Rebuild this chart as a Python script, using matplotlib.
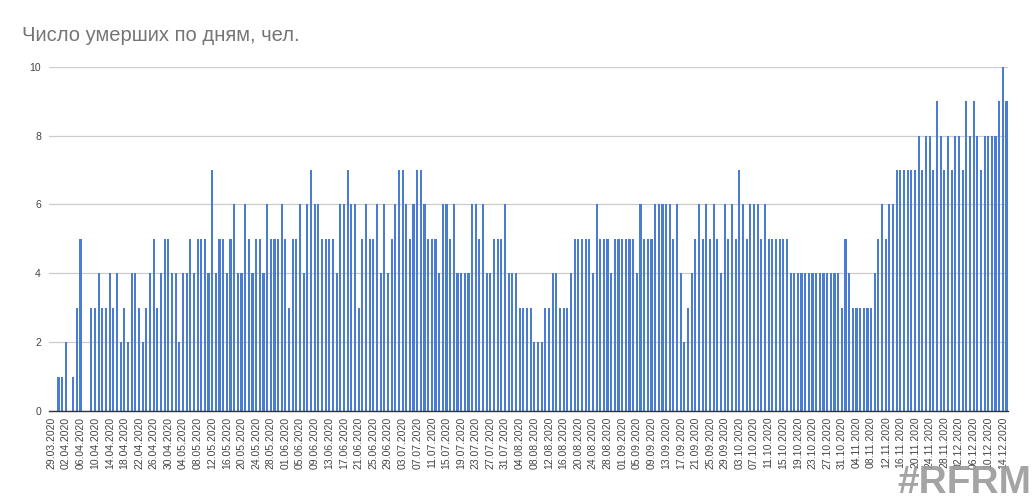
import datetime as dt
import numpy as np
import matplotlib
matplotlib.use("Agg")
import matplotlib.pyplot as plt

plt.rcParams["font.family"] = ["Liberation Sans", "DejaVu Sans"]

# daily deaths, 29.03.2020 .. 15.12.2020
start = dt.date(2020, 3, 29)
deaths = [
    0, 0, 1, 1, 2, 0, 1, 3, 5, 0, 0,
    3, 3, 4, 3, 3, 4, 3, 4, 2, 3, 2, 4, 4, 3, 2, 3, 4, 5, 3, 4, 5,
    5, 4, 4, 2, 4, 4, 5, 4, 5, 5, 5, 4, 7, 4, 5, 5, 4, 5, 6, 4, 4, 6, 5, 4, 5, 5, 4, 6, 5, 5, 5, 6,
    5, 3, 5, 5, 6, 4, 6, 7, 6, 6, 5, 5, 5, 5, 4, 6, 6, 7, 6, 6, 3, 5, 6, 5, 5, 6, 4, 6, 4, 5, 6, 7, 7,
    6, 5, 6, 7, 7, 6, 5, 5, 5, 4, 6, 6, 5, 6, 4, 4, 4, 4, 6, 6, 5, 6, 4, 4, 5, 5, 5, 6, 4, 4, 4, 3, 3,
    3, 3, 2, 2, 2, 3, 3, 4, 4, 3, 3, 3, 4, 5, 5, 5, 5, 5, 4, 6, 5, 5, 5, 4, 5, 5, 5, 5, 5, 5, 4, 6,
    5, 5, 5, 6, 6, 6, 6, 6, 5, 6, 4, 2, 3, 4, 5, 6, 5, 6, 5, 6, 5, 4, 6, 5, 6, 5, 7, 6, 5, 6, 6, 6, 5, 6,
    5, 5, 5, 5, 5, 5, 4, 4, 4, 4, 4, 4, 4, 4, 4, 4, 4, 4, 4, 4, 3, 5, 4, 3, 3, 3, 3, 3, 3, 4, 5, 6,
    5, 6, 6, 7, 7, 7, 7, 7, 7, 8, 7, 8, 8, 7, 9, 8, 7, 8, 7, 8, 8, 7, 9, 8, 9, 8, 7, 8, 8, 8, 8, 9, 10, 9,
]
dates = [start + dt.timedelta(days=i) for i in range(len(deaths))]
labels = [d.strftime("%d.%m.%Y") for d in dates]

TITLE = "Число умерших по дням, чел."
BLUE = "#4a7cd1"

fig = plt.figure(figsize=(10.32, 5.01), dpi=100)
ax = fig.add_axes([0.0478, 0.1796, 0.9293, 0.6873])

x = np.arange(len(deaths))
ax.bar(x, deaths, width=0.58, color=BLUE, zorder=3)

ax.set_xlim(-0.5, len(deaths) - 0.5)
ax.set_ylim(0, 10)
ax.set_yticks(range(0, 11, 2))
ax.grid(axis="y", color="#cccccc", lw=0.9, zorder=0)
ax.set_xticks(x[::4])
ax.set_xticklabels(labels[::4], rotation=90, fontsize=7.5, color="#444444")
ax.tick_params(axis="y", labelsize=7.5, labelcolor="#444444", length=0, pad=6)
ax.tick_params(axis="x", length=0, pad=4)

for s in ["top", "right", "left"]:
    ax.spines[s].set_visible(False)
ax.spines["bottom"].set_color("#333333")
ax.spines["bottom"].set_linewidth(1.0)
ax.spines["bottom"].set_zorder(4)

fig.text(0.0213, 0.93, TITLE, fontsize=14.5, color="#757575", ha="left", va="center")
fig.text(0.999, 0.0, "#RFRM", fontsize=28, fontweight="bold", color="#9a9a9a",
         alpha=0.9, ha="right", va="bottom")

fig.savefig("out.png", dpi=100)
